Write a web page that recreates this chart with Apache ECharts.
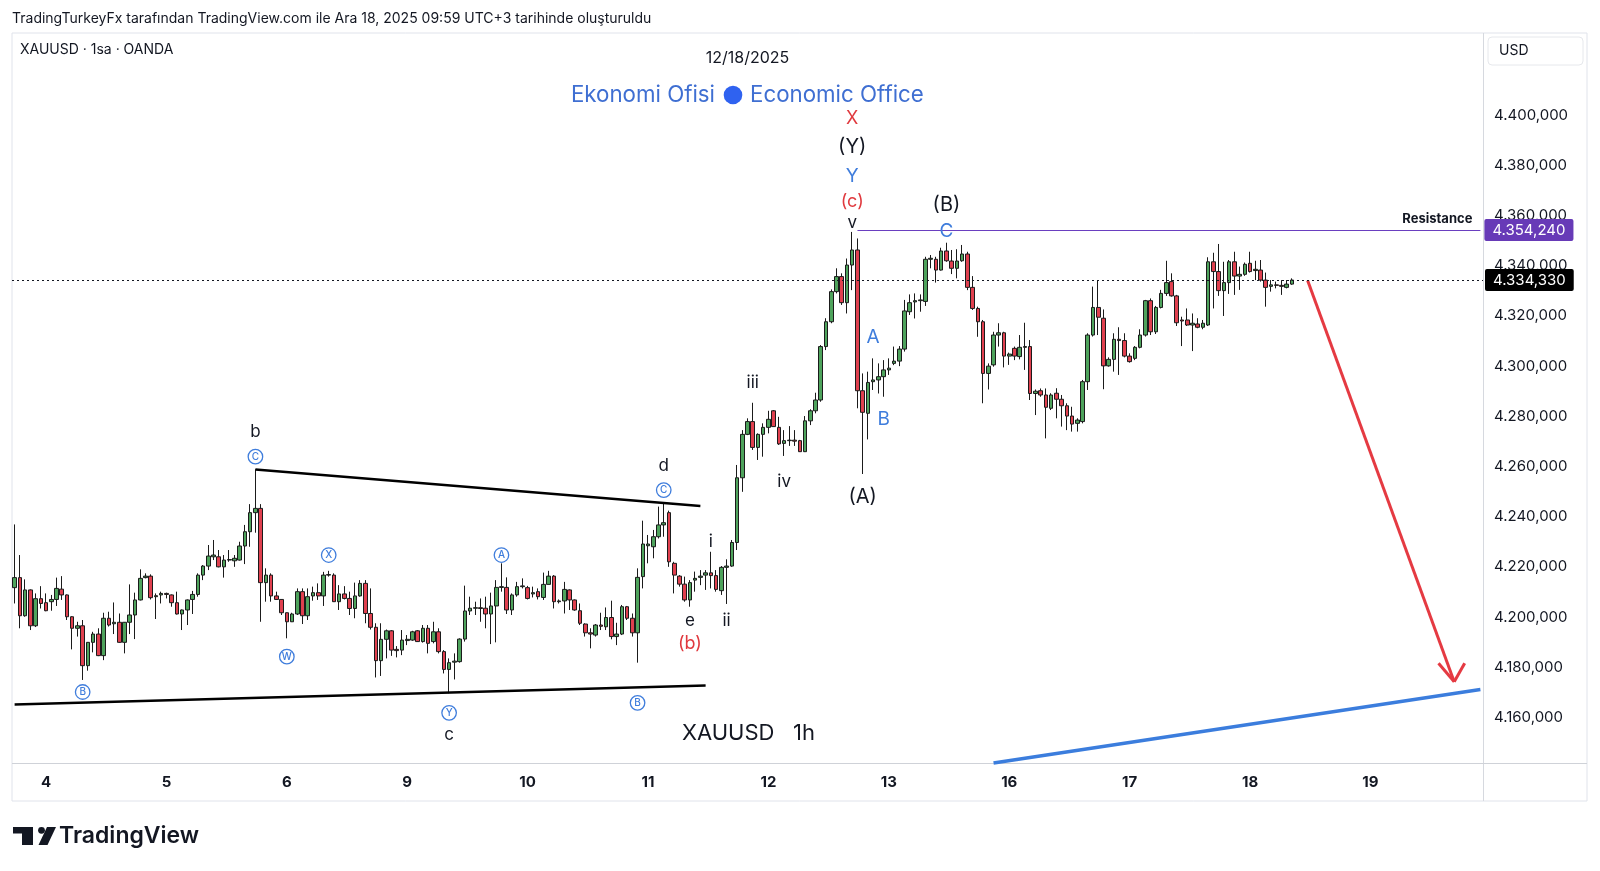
<!DOCTYPE html>
<html><head><meta charset="utf-8">
<script src="https://cdn.jsdelivr.net/npm/echarts@6/dist/echarts.min.js"></script>
<style>html,body{margin:0;padding:0;background:#fff}#c{width:1600px;height:871px}</style>
</head><body><div id="c"></div><script>
// ---- time axis ----
const dayNames = ['3','4','5','6','9','10','11','12','13','16','17','18','19'];
const barsPerDay = 23, firstDayBars = 6, lastDayBars = 22;
// ---- price axis ticks ----
const yTicks = [4160,4180,4200,4220,4240,4260,4280,4300,4320,4340,4360,4380,4400];
const resistance = 4354.240;
const lastPrice = 4334.330;
// ---- hourly candles [open, close, low, high] ----
const dec03 = [[4211.7,4215.7,4205.4,4236.9],[4215.7,4200.5,4195.5,4224.7],[4200.5,4210.8,4200.1,4215.0],[4210.8,4196.5,4194.8,4211.0],[4196.5,4207.3,4196.0,4209.4],[4207.3,4205.4,4203.4,4212.3]];
const dec04 = [[4205.7,4202.5,4202.3,4209.4],[4206.1,4207.0,4202.5,4208.8],[4207.0,4211.4,4204.4,4215.7],[4211.1,4208.8,4206.8,4216.3],[4208.8,4200.1,4198.8,4209.0],[4200.1,4195.5,4187.1,4200.3],[4195.5,4196.5,4192.2,4198.1],[4196.5,4180.6,4174.9,4198.8],[4180.6,4189.9,4178.6,4190.0],[4189.9,4193.2,4185.9,4194.1],[4193.2,4184.6,4184.4,4195.5],[4184.6,4199.5,4182.8,4201.7],[4199.5,4196.8,4196.2,4202.1],[4197.3,4197.9,4193.2,4205.8],[4197.9,4189.9,4189.7,4201.4],[4189.9,4197.9,4185.5,4198.0],[4197.9,4200.8,4193.2,4213.0],[4200.8,4206.8,4191.2,4209.7],[4206.8,4215.4,4206.6,4219.0],[4215.7,4216.3,4215.4,4217.4],[4216.3,4207.7,4207.0,4217.0],[4208.1,4208.5,4199.2,4209.4],[4208.8,4209.4,4205.4,4210.1]];
const dec05 = [[4209.4,4209.0,4207.4,4209.7],[4208.8,4205.7,4204.1,4209.0],[4205.7,4201.2,4201.0,4210.1],[4201.2,4202.8,4194.8,4203.0],[4202.8,4206.8,4196.8,4207.0],[4207.0,4209.0,4201.2,4210.4],[4209.0,4216.7,4208.1,4217.4],[4216.7,4220.3,4214.7,4220.7],[4220.3,4224.3,4218.7,4228.7],[4224.0,4224.7,4222.7,4230.7],[4224.0,4220.0,4219.8,4226.7],[4220.0,4222.7,4215.7,4224.7],[4222.7,4222.9,4222.0,4226.7],[4222.4,4223.4,4220.0,4224.7],[4222.7,4228.3,4222.5,4230.0],[4228.3,4234.0,4221.1,4236.7],[4234.0,4241.6,4228.0,4245.0],[4241.6,4243.3,4233.6,4258.9],[4243.3,4213.7,4198.1,4245.0],[4213.7,4216.7,4206.1,4219.4],[4216.7,4208.4,4206.1,4217.4],[4208.4,4207.0,4206.8,4210.1],[4207.0,4201.7,4200.8,4207.1]];
const dec08 = [[4201.7,4198.1,4191.5,4201.8],[4198.1,4201.2,4198.0,4201.7],[4201.2,4210.1,4200.8,4211.4],[4210.1,4200.5,4197.2,4211.4],[4200.5,4208.1,4198.8,4211.4],[4208.4,4209.7,4206.5,4212.1],[4209.7,4208.4,4206.8,4213.4],[4208.4,4216.7,4204.4,4218.0],[4216.7,4216.9,4216.1,4218.4],[4216.7,4206.1,4206.0,4217.4],[4206.1,4209.2,4202.8,4212.7],[4209.2,4207.4,4207.0,4212.3],[4207.4,4203.4,4200.8,4210.1],[4203.4,4208.4,4199.5,4213.7],[4208.4,4213.4,4208.1,4214.7],[4213.4,4201.4,4197.5,4214.7],[4201.4,4195.9,4195.0,4211.4],[4195.9,4182.6,4175.9,4197.5],[4182.6,4191.1,4176.5,4197.5],[4191.1,4194.5,4183.5,4195.0],[4194.5,4186.8,4184.5,4194.8],[4187.1,4186.6,4183.9,4188.4],[4186.8,4190.8,4184.8,4194.8]];
const dec09 = [[4190.6,4191.1,4188.8,4192.8],[4190.8,4194.1,4190.5,4194.5],[4194.5,4190.2,4190.1,4194.8],[4190.2,4195.5,4189.8,4196.8],[4195.5,4189.5,4185.5,4196.8],[4190.2,4194.1,4189.5,4198.1],[4194.1,4186.2,4185.5,4195.5],[4186.2,4179.1,4177.5,4186.8],[4179.1,4181.8,4169.6,4183.5],[4182.0,4182.4,4175.1,4185.5],[4182.2,4191.2,4181.8,4191.5],[4191.2,4202.4,4190.2,4212.5],[4202.4,4203.5,4200.8,4208.1],[4203.5,4203.7,4200.8,4206.1],[4203.7,4203.4,4198.1,4207.4],[4203.5,4201.2,4195.5,4208.1],[4201.2,4204.4,4189.2,4209.7],[4204.4,4211.8,4189.9,4214.7],[4211.8,4212.1,4210.1,4221.4],[4211.8,4202.8,4201.2,4215.8],[4202.8,4208.8,4200.8,4209.4],[4208.8,4212.1,4208.1,4214.0],[4212.1,4212.4,4211.4,4215.4]];
const dec10 = [[4211.7,4207.4,4207.0,4212.4],[4209.2,4209.7,4207.8,4212.1],[4210.1,4208.1,4207.0,4211.4],[4207.8,4213.0,4206.8,4217.7],[4213.0,4216.3,4213.0,4218.4],[4216.3,4206.1,4203.4,4216.7],[4206.1,4206.4,4205.4,4207.0],[4206.4,4211.0,4201.4,4214.0],[4210.8,4206.8,4202.8,4211.0],[4206.8,4202.8,4202.5,4207.0],[4202.5,4197.5,4196.8,4205.4],[4197.2,4193.7,4192.2,4197.5],[4193.7,4193.2,4187.5,4195.5],[4192.8,4196.8,4192.2,4197.2],[4196.8,4196.3,4194.8,4201.7],[4196.1,4199.8,4194.8,4203.8],[4199.8,4192.2,4191.1,4206.5],[4192.2,4193.2,4188.8,4197.7],[4193.2,4204.1,4192.8,4204.8],[4204.1,4199.5,4198.8,4204.4],[4199.5,4193.7,4192.2,4201.4],[4193.7,4215.8,4181.8,4219.4],[4216.1,4229.1,4211.4,4238.4]];
const dec11 = [[4228.4,4229.1,4221.4,4232.7],[4228.0,4232.0,4223.4,4234.7],[4232.0,4236.7,4231.3,4244.0],[4236.7,4237.6,4232.0,4245.5],[4241.6,4222.0,4220.0,4242.4],[4221.4,4216.7,4209.4,4222.0],[4216.3,4213.1,4212.1,4216.7],[4213.1,4206.8,4206.1,4216.1],[4206.8,4213.7,4204.1,4214.7],[4214.7,4215.4,4210.1,4218.1],[4215.8,4216.3,4212.7,4218.7],[4216.7,4217.6,4210.8,4218.7],[4217.6,4216.5,4211.4,4226.0],[4216.5,4211.0,4210.1,4218.7],[4210.5,4219.8,4208.8,4220.3],[4219.8,4220.3,4205.2,4223.0],[4220.3,4229.7,4220.0,4230.7],[4229.7,4255.5,4226.7,4260.6],[4255.5,4272.8,4249.9,4274.5],[4272.8,4277.9,4272.5,4279.2],[4277.9,4267.6,4266.6,4285.4],[4267.6,4272.8,4262.6,4273.2],[4272.8,4275.6,4263.9,4277.2]];
const dec12 = [[4275.6,4278.8,4273.2,4282.2],[4282.2,4275.9,4275.8,4282.5],[4275.6,4269.0,4268.6,4279.8],[4269.2,4270.3,4264.2,4274.5],[4270.3,4270.5,4268.2,4276.1],[4270.5,4270.1,4268.2,4274.5],[4270.3,4265.9,4265.8,4270.6],[4265.9,4278.2,4265.8,4280.1],[4278.2,4282.2,4276.5,4282.8],[4282.2,4286.5,4281.2,4289.4],[4286.5,4307.8,4285.8,4308.4],[4307.8,4317.7,4306.4,4319.1],[4317.7,4329.7,4317.1,4330.6],[4329.7,4335.7,4329.0,4339.0],[4335.7,4325.3,4324.4,4337.0],[4325.3,4340.3,4321.0,4342.9],[4340.3,4346.3,4330.3,4353.5],[4346.3,4290.2,4283.2,4350.9],[4290.2,4281.6,4257.0,4297.1],[4281.2,4293.5,4270.8,4297.8],[4293.8,4294.5,4290.5,4303.1],[4294.5,4295.8,4289.1,4301.1],[4295.8,4298.5,4287.8,4302.4]];
const dec15 = [[4298.5,4299.2,4296.5,4303.1],[4301.1,4302.0,4300.4,4307.8],[4302.0,4306.8,4300.0,4308.0],[4306.8,4322.0,4305.8,4326.4],[4321.7,4325.3,4320.4,4328.6],[4325.6,4326.1,4319.0,4329.0],[4326.1,4326.4,4321.7,4328.6],[4325.8,4342.6,4324.0,4343.6],[4342.6,4343.0,4339.0,4344.3],[4342.6,4338.3,4333.3,4343.6],[4338.3,4345.9,4338.1,4347.2],[4345.9,4342.0,4341.6,4349.2],[4341.9,4339.0,4336.7,4346.3],[4339.0,4341.9,4335.0,4346.6],[4342.0,4344.7,4341.6,4348.3],[4344.7,4331.4,4330.3,4345.6],[4331.4,4323.0,4322.4,4335.9],[4323.0,4317.7,4311.7,4323.7],[4317.7,4297.1,4285.2,4318.4],[4297.1,4300.0,4290.7,4301.1],[4300.5,4312.4,4299.8,4313.7],[4312.4,4313.3,4307.8,4317.1],[4313.3,4304.0,4299.5,4313.7]];
const dec16 = [[4304.0,4304.8,4300.5,4305.4],[4307.1,4304.0,4302.4,4307.8],[4303.8,4307.5,4302.7,4312.4],[4307.5,4307.8,4298.5,4317.3],[4307.8,4289.1,4286.5,4310.4],[4289.1,4290.0,4280.5,4290.7],[4290.2,4288.5,4287.8,4291.1],[4288.5,4283.6,4271.2,4291.1],[4283.2,4288.5,4282.5,4289.2],[4289.2,4286.8,4279.2,4291.2],[4286.8,4284.2,4275.9,4288.5],[4284.2,4280.1,4274.5,4285.2],[4280.1,4276.9,4273.9,4283.8],[4277.2,4278.5,4273.9,4279.2],[4277.9,4293.8,4277.2,4294.5],[4293.8,4312.4,4290.5,4313.1],[4312.4,4323.4,4311.8,4331.7],[4323.4,4319.5,4312.4,4334.3],[4319.1,4300.1,4290.8,4322.6],[4300.1,4302.7,4299.8,4303.5],[4302.7,4310.7,4297.8,4313.1],[4310.7,4310.2,4296.5,4315.5],[4310.2,4304.0,4303.5,4313.1]];
const dec17 = [[4304.0,4301.8,4301.4,4305.1],[4303.1,4307.5,4302.4,4308.0],[4307.5,4312.4,4307.1,4314.7],[4312.4,4326.1,4311.8,4326.4],[4326.1,4313.7,4312.4,4327.0],[4313.7,4323.4,4312.8,4324.0],[4323.4,4329.0,4323.0,4330.4],[4329.0,4333.3,4328.0,4342.0],[4333.7,4328.0,4327.7,4337.0],[4328.0,4317.3,4316.0,4328.4],[4318.4,4318.0,4308.0,4319.7],[4318.4,4316.4,4316.0,4323.0],[4316.4,4317.1,4306.0,4321.0],[4316.8,4315.5,4315.1,4319.1],[4315.5,4317.1,4314.7,4318.4],[4316.4,4341.6,4316.0,4343.4],[4341.6,4337.7,4323.0,4345.2],[4337.7,4330.1,4328.0,4348.7],[4330.1,4333.3,4320.0,4341.6],[4333.3,4341.6,4328.8,4342.3],[4341.6,4335.9,4328.4,4345.6],[4335.9,4336.6,4330.4,4339.7],[4336.6,4340.6,4336.0,4341.3]];
const dec18 = [[4341.0,4337.7,4337.3,4345.6],[4338.1,4338.6,4334.3,4342.0],[4338.3,4334.3,4333.7,4342.3],[4334.3,4331.4,4323.7,4337.3],[4331.8,4332.4,4329.7,4334.3],[4332.4,4332.2,4331.0,4333.7],[4332.2,4331.8,4328.4,4334.3],[4331.4,4332.7,4331.0,4334.3],[4332.7,4334.33,4332.4,4335.0]];
// ---- drawn lines, in data space [barIndex, price] ----
const triangleUpper = [[46,4258.8],[131,4244.2]];
const triangleLower = [[0,4165.1],[132,4172.7]];
const blueLine = [[187,4141.8],[280,4171.1]];
const redArrow = [[247,4334.1],[275,4174.2]];
const redArrowHead = [[[272,4181.6],[275,4174.2]],[[277,4181.6],[275,4174.2]]];
const resistanceStart = 161, lastIndex = 280;
// ---- wave labels [text, barIndex, price, kind] ----
const waveLabels = [
 ['B',13,4170.1,'circ'],['b',46,4273.9,'k'],['C',46,4263.9,'circ'],['W',52,4184.2,'circ'],
 ['X',60,4224.7,'circ'],['A',93,4224.7,'circ'],['Y',83,4161.8,'circ'],['c',83,4152.9,'k'],
 ['B',119,4165.8,'circ'],['C',124,4250.6,'circ'],['d',124,4260.3,'k'],['e',129,4198.6,'k'],
 ['(b)',129,4189.2,'red'],['i',133,4230.0,'k'],['ii',136,4198.6,'k'],['iii',141,4293.4,'k'],
 ['iv',147,4253.9,'k'],['(A)',162,4247.8,'K'],['A',164,4311.7,'blue'],['B',166,4278.8,'blue'],
 ['X',160,4398.5,'red'],['(Y)',160,4387.5,'K'],['Y',160,4375.8,'blue'],['(c)',160,4365.6,'red'],
 ['v',160,4357.1,'k'],['(B)',178,4364.2,'K'],['C',178,4353.6,'blue']
];

const candles = [].concat(dec03,dec04,dec05,dec08,dec09,dec10,dec11,dec12,dec15,dec16,dec17,dec18);
const categories = [];
dayNames.forEach((d, di) => {
  const n = di === 0 ? firstDayBars : (di === dayNames.length - 1 ? lastDayBars : barsPerDay);
  for (let h = 0; h < n; h++) {
    const slot = di === 0 ? barsPerDay - n + h : h;
    categories.push(d + '|' + slot);
  }
});
const fmtPrice = v => { const [a, b] = Number(v).toFixed(3).split('.'); return a.replace(/\B(?=(\d{3})+(?!\d))/g, '.') + ',' + b; };

const FONT = 'Inter, "Noto Sans", "Liberation Sans", sans-serif';
const INK = '#131722', BLUE = '#3f7ddc', RED = '#e0393e';
const kindStyle = {
  k: { color: INK, fontSize: 17 },
  K: { color: INK, fontSize: 20 },
  blue: { color: BLUE, fontSize: 19 },
  red: { color: RED, fontSize: 18 }
};
const markPoints = waveLabels.map(([t, i, p, kind]) => {
  if (kind === 'circ') {
    return { coord: [i, p], symbol: 'circle', symbolSize: 14.5,
      itemStyle: { color: '#ffffff', borderColor: BLUE, borderWidth: 1.3 },
      label: { show: true, position: 'inside', formatter: () => t, color: BLUE, fontSize: 10, fontFamily: FONT, fontWeight: 500 } };
  }
  const s = kindStyle[kind];
  return { coord: [i, p], symbol: 'circle', symbolSize: 1, itemStyle: { color: 'rgba(0,0,0,0)' },
    label: { show: true, position: 'inside', formatter: () => t, color: s.color, fontSize: s.fontSize, fontFamily: FONT } };
});
const seg = (pts, style) => [{ coord: pts[0], lineStyle: style, label: { show: false } }, { coord: pts[1] }];
const markLines = [
  seg(triangleUpper, { color: '#000', width: 2.5, type: 'solid' }),
  seg(triangleLower, { color: '#000', width: 2.5, type: 'solid' }),
  seg(blueLine, { color: '#3b7ddd', width: 3.5, type: 'solid' }),
  seg(redArrow, { color: '#e53a42', width: 3, type: 'solid' }),
  seg(redArrowHead[0], { color: '#e53a42', width: 3, type: 'solid' }),
  seg(redArrowHead[1], { color: '#e53a42', width: 3, type: 'solid' }),
  [{ coord: [resistanceStart, resistance], lineStyle: { color: '#6a3fc0', width: 1.2, type: 'solid' },
     label: { show: true, position: 'end', distance: 4, formatter: () => fmtPrice(resistance), color: '#fff',
       backgroundColor: '#673ab7', padding: [4, 8, 3, 8], fontSize: 15, fontFamily: FONT, borderRadius: 2 } },
   { coord: [lastIndex, resistance] }],
  [{ coord: [resistanceStart, resistance], lineStyle: { color: 'rgba(0,0,0,0)', width: 1, type: 'solid' },
     label: { show: true, position: 'insideEndTop', distance: 4, formatter: () => 'Resistance', color: INK,
       fontSize: 13, fontWeight: 'bold', fontFamily: FONT, padding: [0, 4, 0, 0] } },
   { coord: [lastIndex, resistance] }],
  { yAxis: lastPrice, lineStyle: { color: '#131722', width: 1, type: [2, 3] },
    label: { show: true, position: 'end', distance: 2, formatter: () => fmtPrice(lastPrice), color: '#fff',
      backgroundColor: '#000', padding: [4, 8, 3, 8], fontSize: 15, fontFamily: FONT, borderRadius: 2 } }
];

const T = (text, x, y, size, extra) => ({ type: 'text', z: 100, silent: true,
  style: Object.assign({ text, x, y, fill: INK, fontSize: size, fontFamily: FONT, align: 'left', verticalAlign: 'middle',
    textAlign: 'left', textVerticalAlign: 'middle' }, extra || {}) });

const chart = echarts.init(document.getElementById('c'), null, { renderer: 'canvas' });
chart.setOption({
  animation: false,
  backgroundColor: '#ffffff',
  textStyle: { fontFamily: FONT },
  grid: { left: 12, right: 117, top: 33, bottom: 108 },
  xAxis: {
    type: 'category', data: categories, boundaryGap: true,
    axisLine: { show: false }, axisTick: { show: false }, splitLine: { show: false },
    axisLabel: { interval: (idx, val) => val.endsWith('|0'), formatter: val => val.split('|')[0],
      margin: 12, fontSize: 15, fontWeight: 'bold', color: INK, fontFamily: FONT }
  },
  yAxis: {
    type: 'value', position: 'right', min: 4141.8, max: 4432.8, scale: true,
    axisLine: { show: false }, axisTick: { show: false }, splitLine: { show: false },
    axisLabel: { customValues: yTicks, formatter: v => fmtPrice(v), margin: 11, fontSize: 15, color: INK, fontFamily: FONT }
  },
  series: [{
    type: 'candlestick', data: candles, barWidth: '78%',
    itemStyle: { color: '#4ea35c', color0: '#e0404f', borderColor: '#1b1b1b', borderColor0: '#1b1b1b', borderColorDoji: '#1b1b1b', borderWidth: 1 },
    markLine: { silent: true, symbol: ['none', 'none'], animation: false, data: markLines },
    markPoint: { silent: true, animation: false, data: markPoints }
  }],
  graphic: [
    { type: 'rect', z: 1, silent: true, shape: { x: 12, y: 33, width: 1575, height: 768 }, style: { fill: 'none', stroke: '#e0e3eb', lineWidth: 1 } },
    { type: 'line', z: 1, silent: true, shape: { x1: 1483.5, y1: 33, x2: 1483.5, y2: 801 }, style: { stroke: '#d6d9df', lineWidth: 1 } },
    { type: 'line', z: 1, silent: true, shape: { x1: 12, y1: 763.5, x2: 1587, y2: 763.5 }, style: { stroke: '#cfd2d8', lineWidth: 1.2 } },
    T('TradingTurkeyFx tarafından TradingView.com ile Ara 18, 2025 09:59 UTC+3 tarihinde oluşturuldu', 12, 18.5, 14),
    T('XAUUSD · 1sa · OANDA', 20, 50, 14),
    T('12/18/2025', 747.5, 58, 16, { align: 'center', textAlign: 'center' }),
    T('Ekonomi Ofisi', 715, 95, 22.3, { align: 'right', textAlign: 'right', fill: '#3f6fd2' }),
    { type: 'circle', z: 100, silent: true, shape: { cx: 733, cy: 95, r: 9.3 }, style: { fill: '#2f62f0' } },
    T('Economic Office', 750, 95, 22.3, { fill: '#3f6fd2' }),
    T('XAUUSD   1h', 748.5, 733, 22, { align: 'center', textAlign: 'center' }),
    { type: 'rect', z: 100, silent: true, shape: { x: 1488, y: 37, width: 95, height: 28, r: 4 }, style: { fill: '#ffffff', stroke: '#e6e8ec', lineWidth: 1 } },
    T('USD', 1499, 51, 14),
    { type: 'rect', z: 100, silent: true, shape: { x: 13, y: 827, width: 20, height: 6.5 }, style: { fill: INK } },
    { type: 'rect', z: 100, silent: true, shape: { x: 22, y: 827, width: 11, height: 18 }, style: { fill: INK } },
    { type: 'circle', z: 100, silent: true, shape: { cx: 41.5, cy: 830.3, r: 3.4 }, style: { fill: INK } },
    { type: 'polygon', z: 100, silent: true, shape: { points: [[47, 827], [56, 827], [47.5, 845], [38.5, 845]] }, style: { fill: INK } },
    T('TradingView', 59, 836.5, 23, { fontWeight: 600 })
  ]
});
</script></body></html>
